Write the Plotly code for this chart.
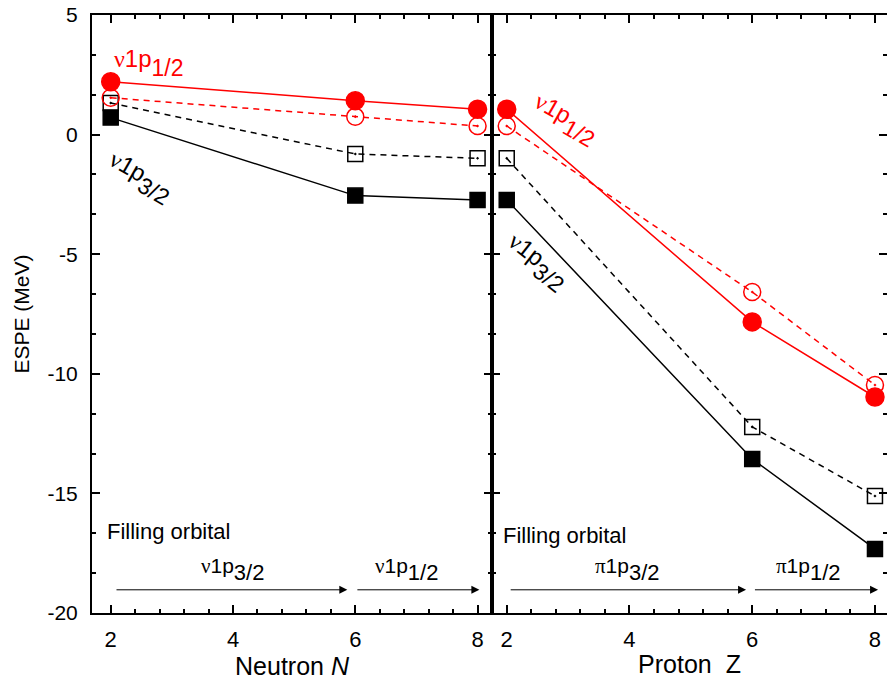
import plotly.graph_objects as go

# ---- data ----
x_vals = [2, 6, 8]

# Left panel: Neutron N
n_red_filled = [2.21, 1.42, 1.06]
n_red_open = [1.54, 0.75, 0.36]
n_black_open = [1.32, -0.81, -0.99]
n_black_filled = [0.71, -2.55, -2.73]

# Right panel: Proton Z
z_red_filled = [1.06, -7.83, -10.97]
z_red_open = [0.36, -6.58, -10.47]
z_black_open = [-0.99, -12.22, -15.11]
z_black_filled = [-2.73, -13.56, -17.32]

x_ticks = [2, 4, 6, 8]
y_ticks = [5, 0, -5, -10, -15, -20]
y_ticktext = ["5", "0", "-5", "-10", "-15", "-20"]

RED = "#ff0000"
BLK = "#000000"
FONT = "Liberation Sans, Arial, sans-serif"
NU = '<span style="font-family:Liberation Serif">ν</span>'
PI = '<span style="font-family:Liberation Serif">π</span>'

fig = go.Figure()


def add_series(xa, ya, ys, color, symbol, dash, size):
    fig.add_trace(go.Scatter(
        x=x_vals, y=ys, xaxis=xa, yaxis=ya, mode="lines+markers",
        line=dict(color=color, width=1.5, dash=dash),
        marker=dict(symbol=symbol, size=size, color=color,
                    line=dict(color=color, width=1.5)),
        showlegend=False, cliponaxis=False))


for xa, ya, rf, ro, bo, bf in [("x", "y", n_red_filled, n_red_open, n_black_open, n_black_filled),
                                ("x2", "y2", z_red_filled, z_red_open, z_black_open, z_black_filled)]:
    add_series(xa, ya, bo, BLK, "square-open-dot", "6px,5px", 15)
    add_series(xa, ya, bf, BLK, "square", "solid", 15)
    add_series(xa, ya, ro, RED, "circle-open-dot", "6px,5px", 17)
    add_series(xa, ya, rf, RED, "circle", "solid", 18)

ax_common = dict(
    showline=True, linecolor=BLK, linewidth=2, mirror="ticks",
    ticks="inside", ticklen=8, tickwidth=1.5, tickcolor=BLK,
    showgrid=False, zeroline=False, automargin=False,
    tickfont=dict(family=FONT, size=22, color=BLK),
)

split = 400 / 795
minor_x = dict(dtick=0.4, tick0=2, ticks="inside", ticklen=4, tickwidth=1.5, tickcolor=BLK)
minor_y = dict(dtick=5 / 3, tick0=0, ticks="inside", ticklen=4, tickwidth=1.5, tickcolor=BLK)

fig.update_layout(
    width=887, height=682,
    margin=dict(l=92, r=0, t=15, b=69),
    plot_bgcolor="white", paper_bgcolor="white",
    font=dict(family=FONT, color=BLK),
    xaxis=dict(domain=[0, split], range=[1.694, 8.236], tickvals=x_ticks, minor=minor_x,
               title=dict(text="Neutron <i>N</i>", font=dict(family=FONT, size=25), standoff=4),
               ticklabelstandoff=6, anchor="y", **ax_common),
    xaxis2=dict(domain=[split, 1], range=[1.76, 8.196], tickvals=x_ticks, minor=minor_x,
                title=dict(text="Proton&nbsp;&nbsp;Z", font=dict(family=FONT, size=25), standoff=4),
                ticklabelstandoff=6, anchor="y2", **ax_common),
    yaxis=dict(range=[-20, 5], tickvals=y_ticks, ticktext=y_ticktext, anchor="x", minor=minor_y,
               title=dict(text="ESPE (MeV)", font=dict(family=FONT, size=21), standoff=12),
               ticklabelstandoff=8, **ax_common),
    yaxis2=dict(range=[-20, 5], tickvals=y_ticks, ticktext=y_ticktext, anchor="x2", matches="y",
                showticklabels=False, minor=minor_y, **ax_common),
)
fig.update_yaxes(tickfont=dict(family=FONT, size=21, color=BLK))

ann = []


def lab(greek, sub, sub_size):
    return (greek + '1p<sub><sub><span style="font-size:%dpx">%s</span></sub></sub>' % (sub_size, sub))


def txt(xref, yref, x, y, text, color=BLK, size=21, angle=0, xanchor="center"):
    ann.append(dict(xref=xref, yref=yref, x=x, y=y, text=text, showarrow=False,
                    font=dict(family=FONT, size=size, color=color), textangle=angle,
                    xanchor=xanchor, yanchor="middle"))


# orbital labels
txt("x", "y", 2.02, 3.0, lab(NU, "1/2", 23), RED, 24, 0, "left")
txt("x", "y", 2.48, -1.8, lab(NU, "3/2", 23), BLK, 24, 30)
txt("x2", "y2", 2.95, 0.6, lab(NU, "1/2", 23), RED, 24, 30)
txt("x2", "y2", 2.5, -5.35, lab(NU, "3/2", 23), BLK, 24, 38)

# filling orbital
txt("x", "y", 1.9, -16.6, "Filling orbital", BLK, 22, 0, "left")
txt("x2", "y2", 1.9, -16.75, "Filling orbital", BLK, 22, 0, "left")

# arrows
arrow_specs = [
    ("x", "y", 2.07, 5.87, NU, "3/2", 3.99),
    ("x", "y", 6.01, 8.03, NU, "1/2", 6.83),
    ("x2", "y2", 2.04, 5.9, PI, "3/2", 3.97),
    ("x2", "y2", 6.02, 8.05, PI, "1/2", 6.92),
]
arrow_y = -19.03
for xr, yr, x0, x1, g, sub, lx in arrow_specs:
    ann.append(dict(xref=xr, yref=yr, axref=xr, ayref=yr, x=x1, y=arrow_y, ax=x0, ay=arrow_y,
                    showarrow=True, arrowhead=2, arrowsize=1.6, arrowwidth=1, arrowcolor=BLK, text=""))
    txt(xr, yr, lx, -18.2, lab(g, sub, 22), BLK, 21)

fig.update_layout(annotations=ann)
fig.write_html("out.html", config={"displayModeBar": False},
               post_script="document.body.style.margin='0';window.dispatchEvent(new Event('resize'));")
